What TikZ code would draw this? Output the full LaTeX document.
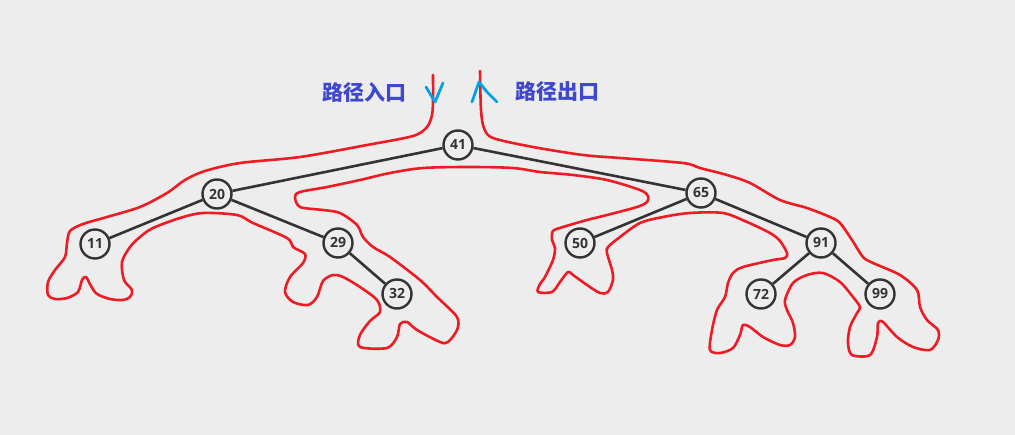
\documentclass[tikz,border=0pt]{standalone}
\usepackage{fontspec}
\newfontfamily\cjk{Noto Sans CJK SC}
\newfontfamily\numfont{Open Sans}
\usetikzlibrary{positioning}
\definecolor{paper}{HTML}{EDEDED}
\definecolor{ink}{HTML}{333333}
\definecolor{trailred}{HTML}{ED1C24}
\definecolor{indigo}{HTML}{3F48CC}
\definecolor{turq}{HTML}{00A2E8}

\begin{document}
\begin{tikzpicture}
  [
    x=1pt, y=-1pt,
    key/.style={draw=ink, fill=paper, circle, line width=2.4pt, minimum size=29pt, inner sep=0pt, text=ink, font=\numfont\bfseries\fontsize{14}{14}\selectfont},
    edge/.style={draw=ink, line width=2.6pt},
    trail/.style={draw=trailred, line width=2.6pt, line cap=round, line join=round},
    hint/.style={draw=turq, line width=2.8pt, line cap=round, line join=round},
    pathlabel/.style={text=indigo, font=\cjk\bfseries\fontsize{21}{21}\selectfont},
    on grid
  ]
  \fill[paper] (0,0) rectangle (1015,435);
  \useasboundingbox (0,0) rectangle (1015,435);

  \node (n41) [key] at (458,145) {41};
  \node (n20) [key, below left=49pt and 241pt of n41] {20};
  \node (n65) [key, below right=48pt and 243pt of n41] {65};
  \node (n11) [key, below left=50pt and 122pt of n20] {11};
  \node (n29) [key, below right=49pt and 121pt of n20] {29};
  \node (n32) [key, below right=51pt and 59pt of n29] {32};
  \node (n50) [key, below left=50pt and 121pt of n65] {50};
  \node (n91) [key, below right=50pt and 120pt of n65] {91};
  \node (n72) [key, below left=51pt and 60pt of n91] {72};
  \node (n99) [key, below right=51pt and 59pt of n91] {99};

  \node (in) [pathlabel] at (364,92) {路径入口};
  \node (out) [pathlabel] at (557,92) {路径出口};

  \draw [edge] (n41) -- (n20);
  \draw [edge] (n41) -- (n65);
  \draw [edge] (n20) -- (n11);
  \draw [edge] (n20) -- (n29);
  \draw [edge] (n29) -- (n32);
  \draw [edge] (n65) -- (n50);
  \draw [edge] (n65) -- (n91);
  \draw [edge] (n91) -- (n72);
  \draw [edge] (n91) -- (n99);

  % traversal trail round the tree
  \draw [trail] plot [smooth, tension=0.5] coordinates {
    (433,75) (433,100) (432,115) (427,127) (413,136) (367,145) (300,157)
    (240,163) (205,171) (185,180) (167,193) (140,207) (107,217) (83,224)
    (70,231) (67,243) (65,257) (55,270) (48,282) (48,295) (55,299) (67,298)
    (78,292) (82,280) (86,277) (91,286) (97,294) (110,299) (123,300) (130,297)
    (132,290) (124,280) (122,262) (130,247) (140,237) (153,228) (180,218)
    (203,213) (237,215) (253,223) (287,238) (293,247) (305,254) (303,263)
    (290,277) (285,292) (293,302) (308,305) (317,297) (323,281) (333,275)
    (343,277) (360,287) (377,300) (380,312) (370,321) (360,335) (360,347)
    (387,348) (397,337) (400,324) (407,322) (417,330) (440,342) (448,342)
    (457,330) (457,317) (437,297) (420,280) (390,257) (373,247) (363,237)
    (357,225) (340,213) (323,210) (300,207) (295,197) (300,192) (327,187)
    (360,180) (390,173) (423,168) (470,167) (513,168) (540,172) (573,175)
    (607,180) (640,190) (648,196) (647,202) (637,207) (607,215) (587,220)
    (563,227) (553,231) (552,240) (555,248) (553,260) (545,277) (540,284)
    (538,292) (552,292) (560,282) (568,272) (573,275) (587,285) (600,293)
    (608,292) (613,280) (612,270) (607,253) (608,247) (620,237) (640,223)
    (663,217) (690,213) (723,213) (747,222) (770,233) (780,241) (787,253)
    (785,258) (773,260) (743,267) (733,273) (728,283) (725,297) (717,310)
    (712,330) (710,350) (720,353) (733,348) (740,335) (743,325) (750,327)
    (763,337) (780,345) (790,345) (795,337) (793,323) (787,310) (785,300)
    (793,283) (807,275) (823,273) (840,282) (853,297) (860,307) (857,313)
    (850,327) (848,343) (852,355) (870,355) (877,337) (878,323) (883,322)
    (897,337) (913,347) (930,350) (938,340) (938,330) (927,320) (920,307)
    (917,290) (900,275) (873,263) (863,257) (852,240) (840,223) (830,217)
    (807,208) (780,200) (750,183) (727,175) (700,168) (683,163) (620,158)
    (583,155) (533,147) (493,138) (484,128) (481,110) (480,71)};

  % entry and exit hints
  \draw [hint] (426,87) -- (435,102) -- (443,83);
  \draw [hint] (472,102) -- (479,82) -- (487,92) -- (497,102);
\end{tikzpicture}
\end{document}
